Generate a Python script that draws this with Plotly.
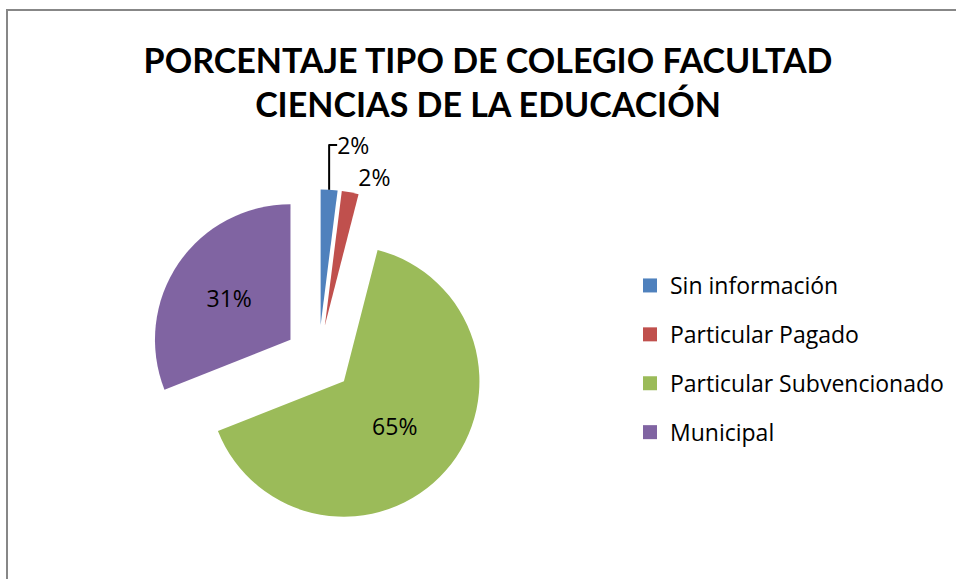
import plotly.graph_objects as go

categories = ["Sin información", "Particular Pagado", "Particular Subvencionado", "Municipal"]
percentages = [2, 2, 65, 31]
colors = ["#4F81BD", "#C0504D", "#9BBB59", "#8064A2"]
title_text = "PORCENTAJE TIPO DE COLEGIO FACULTAD<br>CIENCIAS DE LA EDUCACIÓN"

W, H = 956, 579
TITLE_FONT = "Lato"
FONT = "Open Sans"

fig = go.Figure()

fig.add_trace(go.Pie(
    labels=categories,
    values=percentages,
    sort=False,
    direction="clockwise",
    rotation=0,
    pull=0.25,
    marker=dict(colors=colors, line=dict(width=0)),
    textinfo="percent",
    textposition=["outside", "outside", "inside", "inside"],
    insidetextorientation="horizontal",
    textfont=dict(family=FONT, size=23, color="#000000"),
    insidetextfont=dict(family=FONT, size=23, color="#000000"),
    outsidetextfont=dict(family=FONT, size=23, color="#000000"),
    showlegend=False,
    domain=dict(x=[149.1 / W, 487.9 / W], y=[1 - 528.2 / H, 1 - 189.4 / H]),
    hoverinfo="label+percent",
))

# legend entries (one per category) for wider legend spacing
for i, (cat, col) in enumerate(zip(categories, colors)):
    fig.add_trace(go.Scatter(
        x=[None], y=[None], mode="markers", name=cat,
        marker=dict(symbol="square", size=14, color=col),
        legendgroup=f"g{i}", showlegend=True, hoverinfo="skip",
    ))

fig.update_layout(
    width=W, height=H,
    margin=dict(l=0, r=0, t=0, b=0, autoexpand=False),
    paper_bgcolor="white", plot_bgcolor="white",
    xaxis=dict(visible=False), yaxis=dict(visible=False),
    title=dict(
        text=title_text,
        font=dict(family=TITLE_FONT, size=34, color="#000000", weight="bold"),
        x=488 / W, xanchor="center",
        y=1 - 73 / H, yanchor="top", yref="container",
    ),
    legend=dict(
        x=630 / W, y=1 - 264 / H, xanchor="left", yanchor="top",
        font=dict(family=FONT, size=23, color="#000000"),
        traceorder="grouped", tracegroupgap=16,
        itemsizing="trace", bgcolor="rgba(0,0,0,0)",
    ),
    shapes=[dict(
        type="rect", xref="paper", yref="paper",
        x0=7 / W, x1=1.05, y0=-0.05, y1=1 - 10 / H,
        line=dict(color="#878787", width=2), fillcolor="rgba(0,0,0,0)",
        layer="below",
    )],
)

fig.write_html("out.html", config={"displayModeBar": False},
               post_script="document.body.style.margin='0';")
